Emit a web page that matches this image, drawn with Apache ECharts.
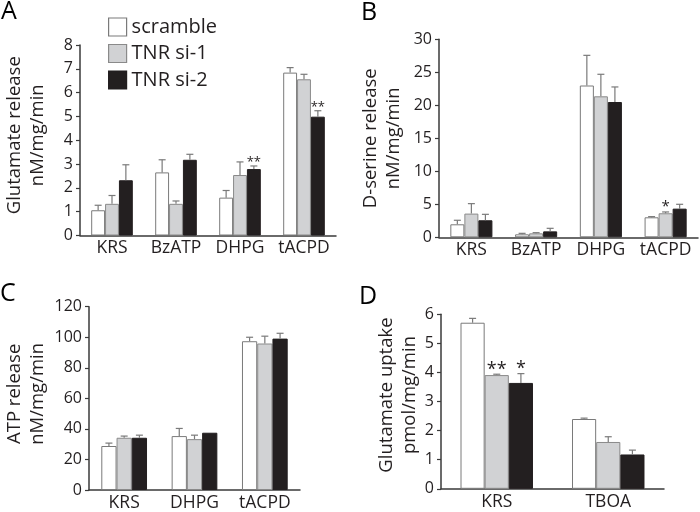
<!DOCTYPE html>
<html>
<head>
<meta charset="utf-8">
<script src="https://cdn.jsdelivr.net/npm/echarts@6/dist/echarts.min.js"></script>
<style>html,body{margin:0;padding:0;background:#fff}#c{width:700px;height:512px}</style>
</head>
<body>
<div id="c"></div>
<script>
// ---- data ----
const seriesNames = ['scramble', 'TNR si-1', 'TNR si-2'];

const catsA = ['KRS', 'BzATP', 'DHPG', 'tACPD'];
const scrA = [1.06, 2.65, 1.59, 6.84];
const scrAErr = [0.21, 0.53, 0.30, 0.21];
const si1A = [1.33, 1.33, 2.54, 6.56];
const si1AErr = [0.35, 0.12, 0.55, 0.21];
const si2A = [2.32, 3.18, 2.79, 4.99];
const si2AErr = [0.65, 0.23, 0.13, 0.25];
const sigA = [['', '', '', ''], ['', '', '', ''], ['', '', '**', '**']];

const catsB = ['KRS', 'BzATP', 'DHPG', 'tACPD'];
const scrB = [1.97, 0.45, 23.0, 3.03];
const scrBErr = [0.61, 0.15, 4.57, 0.10];
const si1B = [3.59, 0.60, 21.36, 3.64];
const si1BErr = [1.51, 0.10, 3.34, 0.20];
const si2B = [2.58, 0.90, 20.5, 4.34];
const si2BErr = [0.90, 0.46, 2.28, 0.66];
const sigB = [['', '', '', ''], ['', '', '', '*'], ['', '', '', '']];

const catsC = ['KRS', 'DHPG', 'tACPD'];
const scrC = [28.8, 35.3, 97.4];
const scrCErr = [1.9, 5.0, 2.6];
const si1C = [34.2, 33.3, 95.9];
const si1CErr = [1.1, 2.6, 4.8];
const si2C = [34.2, 37.5, 99.1];
const si2CErr = [1.7, 0, 3.5];
const sigC = [['', '', ''], ['', '', ''], ['', '', '']];

const catsD = ['KRS', 'TBOA'];
const scrD = [5.71, 2.40];
const scrDErr = [0.15, 0.03];
const si1D = [3.91, 1.61];
const si1DErr = [0.03, 0.18];
const si2D = [3.64, 1.18];
const si2DErr = [0.32, 0.15];
const sigD = [['', ''], ['**', ''], ['*', '']];

const yTitleA = 'Glutamate release\nnM/mg/min';
const yTitleB = 'D-serine release\nnM/mg/min';
const yTitleC = 'ATP release\nnM/mg/min';
const yTitleD = 'Glutamate uptake\npmol/mg/min';

// ---- styles ----
const FONT = 'Open Sans';
const TXT = '#231f20';
const barStyles = [
  { color: '#ffffff', borderColor: '#7a7a7a', borderWidth: 1 },
  { color: '#d1d2d4', borderColor: '#8a8a8a', borderWidth: 1 },
  { color: '#231f20', borderColor: '#231f20', borderWidth: 1 }
];
const CAT_GAP = 0.35;

const panels = [
  { cats: catsA, vals: [scrA, si1A, si2A], errs: [scrAErr, si1AErr, si2AErr], sig: sigA, max: 8, interval: 1,
    grid: { left: 80, top: 45, width: 256, height: 190.5 }, name: yTitleA, nameGap: 31, namePad: 10,
    sigFont: 13, sigGap: 3.5 },
  { cats: catsB, vals: [scrB, si1B, si2B], errs: [scrBErr, si1BErr, si2BErr], sig: sigB, max: 30, interval: 5,
    grid: { left: 439, top: 39.3, width: 259, height: 198 }, name: yTitleB, nameGap: 34, namePad: 0,
    sigFont: 15, sigGap: 5.5 },
  { cats: catsC, vals: [scrC, si1C, si2C], errs: [scrCErr, si1CErr, si2CErr], sig: sigC, max: 120, interval: 20,
    grid: { left: 89, top: 306.7, width: 211, height: 183.5 }, name: yTitleC, nameGap: 40, namePad: 9,
    sigFont: 16, sigGap: 5 },
  { cats: catsD, vals: [scrD, si1D, si2D], errs: [scrDErr, si1DErr, si2DErr], sig: sigD, max: 6, interval: 1,
    grid: { left: 441, top: 314.3, width: 223, height: 174.5 }, name: yTitleD, nameGap: 19, namePad: 13,
    sigFont: 18, sigGap: 4.5 }
];

function errRender(k, sigArr, sigFont, sigGap) {
  return function (params, api) {
    const xi = api.value(0), v = api.value(1), e = api.value(2);
    const band = api.size([1, 0])[0];
    const bw = band * (1 - CAT_GAP) / 3;
    const p0 = api.coord([xi, v]);
    const p1 = api.coord([xi, v + e]);
    const cx = p0[0] + (k - 1) * bw;
    const children = [];
    const st = { stroke: '#7a7a7a', lineWidth: 1.2 };
    if (e > 0) {
      children.push({ type: 'line', shape: { x1: cx, y1: p0[1], x2: cx, y2: p1[1] }, style: st });
      children.push({ type: 'line', shape: { x1: cx - 3.5, y1: p1[1], x2: cx + 3.5, y2: p1[1] }, style: st });
    }
    const s = sigArr[k][params.dataIndex];
    if (s) {
      children.push({ type: 'text', x: cx, y: p1[1] - sigGap,
        style: { text: s, fill: TXT, font: sigFont + 'px "' + FONT + '"', align: 'center', verticalAlign: 'middle' } });
    }
    return { type: 'group', children: children };
  };
}

const grids = [], xAxes = [], yAxes = [], series = [];
panels.forEach(function (p, gi) {
  grids.push(Object.assign({ containLabel: false }, p.grid));
  xAxes.push({
    type: 'category', gridIndex: gi, data: p.cats,
    axisLine: { lineStyle: { color: '#3a3a3a', width: 1.5 } },
    axisTick: { show: false },
    axisLabel: { color: TXT, fontFamily: FONT, fontSize: 17.5, margin: 4, interval: 0 }
  });
  yAxes.push({
    type: 'value', gridIndex: gi, min: 0, max: p.max, interval: p.interval,
    name: p.name, nameLocation: 'middle', nameRotate: 90, nameGap: p.nameGap,
    nameTextStyle: { color: TXT, fontFamily: FONT, fontSize: 18.5, lineHeight: 23, padding: [0, 0, 0, p.namePad] },
    axisLine: { show: true, lineStyle: { color: '#3a3a3a', width: 1.5 } },
    axisTick: { show: true, length: 4, lineStyle: { color: '#3a3a3a', width: 1.2 } },
    axisLabel: { color: TXT, fontFamily: FONT, fontSize: 16, margin: 7 },
    splitLine: { show: false }
  });
  for (let k = 0; k < 3; k++) {
    series.push({
      type: 'bar', name: seriesNames[k], xAxisIndex: gi, yAxisIndex: gi,
      data: p.vals[k], barGap: '0%', barCategoryGap: (CAT_GAP * 100) + '%',
      itemStyle: barStyles[k], animation: false
    });
  }
  for (let k = 0; k < 3; k++) {
    series.push({
      type: 'custom', xAxisIndex: gi, yAxisIndex: gi, z: 5, animation: false,
      renderItem: errRender(k, p.sig, p.sigFont, p.sigGap),
      data: p.vals[k].map(function (v, i) { return [i, v, p.errs[k][i]]; })
    });
  }
});

const letterStyle = { fill: '#000', font: '25px "' + FONT + '"' };
const chart = echarts.init(document.getElementById('c'), null, { renderer: 'canvas' });
chart.setOption({
  animation: false,
  grid: grids, xAxis: xAxes, yAxis: yAxes, series: series,
  legend: {
    data: seriesNames, orient: 'vertical', left: 103, top: 12,
    itemWidth: 18, itemHeight: 18, itemGap: 6.5, icon: 'rect',
    textStyle: { color: TXT, fontFamily: FONT, fontSize: 20 },
    itemStyle: { borderWidth: 1.2 }
  },
  graphic: [
    { type: 'text', left: 1, top: -1, style: Object.assign({ text: 'A' }, letterStyle) },
    { type: 'text', left: 361, top: 0, style: Object.assign({ text: 'B' }, letterStyle) },
    { type: 'text', left: 0, top: 281, style: Object.assign({ text: 'C' }, letterStyle) },
    { type: 'text', left: 359, top: 284, style: Object.assign({ text: 'D' }, letterStyle) }
  ]
});
</script>
</body>
</html>
